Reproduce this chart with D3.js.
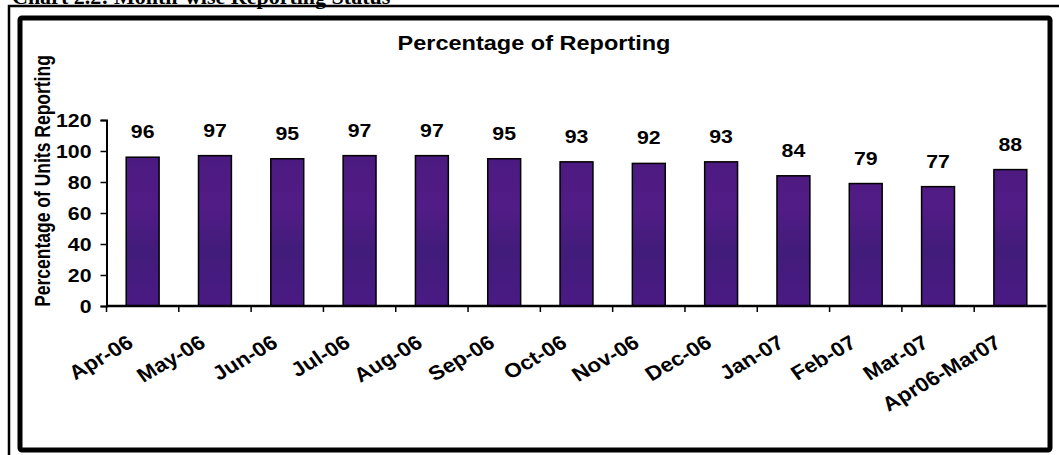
<!DOCTYPE html>
<html>
<head>
<meta charset="utf-8">
<script src="https://cdn.jsdelivr.net/npm/d3@7"></script>
<style>
  body { margin: 0; background: #fff; }
  text { font-family: "Liberation Sans", Arial, sans-serif; font-weight: bold; fill: #000; }
</style>
</head>
<body>
<svg width="1059" height="455"></svg>
<script>
//  chart data
var months = ["Apr-06", "May-06", "Jun-06", "Jul-06", "Aug-06", "Sep-06", "Oct-06",
              "Nov-06", "Dec-06", "Jan-07", "Feb-07", "Mar-07", "Apr06-Mar07"];
var reporting = [96, 97, 95, 97, 97, 95, 93, 92, 93, 84, 79, 77, 88];
var yTicks = [0, 20, 40, 60, 80, 100, 120];

var svg = d3.select("svg");
var stretch = 1.12; // the picture is a little wider than tall

//  scales
var x = d3.scaleBand()
  .domain(months)
  .range([106.5, 1046.5])
  .paddingInner(0.545)
  .paddingOuter(0.2725);

var y = d3.scaleLinear()
  .domain([0, 120])
  .range([306, 120]);

//  bar texture, a vertical purple gradient
var grad = svg.append("defs").append("linearGradient")
  .attr("id", "purple")
  .attr("gradientUnits", "userSpaceOnUse")
  .attr("x1", 0).attr("y1", y(100)).attr("x2", 0).attr("y2", y(0));
grad.append("stop").attr("offset", "0%").attr("stop-color", "#4a1a7e");
grad.append("stop").attr("offset", "35%").attr("stop-color", "#521c86");
grad.append("stop").attr("offset", "65%").attr("stop-color", "#411c7a");
grad.append("stop").attr("offset", "100%").attr("stop-color", "#4a1a84");

//  caption above the frame (cut off at the top)
svg.append("text")
  .attr("x", 12)
  .attr("y", 4)
  .style("font-family", "'Liberation Serif', 'Times New Roman', serif")
  .style("font-size", "22px")
  .text("Chart 2.2: Month-wise Reporting Status");

//  outer frame lines
svg.append("path")
  .attr("d", "M9,455 V6 H1059")
  .attr("fill", "none")
  .attr("stroke", "#000")
  .attr("stroke-width", 2.5);

//  chart area border
svg.append("rect")
  .attr("x", 20)
  .attr("y", 18)
  .attr("width", 1030)
  .attr("height", 432)
  .attr("rx", 2)
  .attr("fill", "#fff")
  .attr("stroke", "#000")
  .attr("stroke-width", 5);

//  title
svg.append("text")
  .attr("transform", "translate(534,50) scale(" + stretch + ",1)")
  .attr("text-anchor", "middle")
  .style("font-size", "21px")
  .text("Percentage of Reporting");

//  y axis title
svg.append("text")
  .attr("transform", "translate(50,181) scale(1.25,1) rotate(-90)")
  .attr("text-anchor", "middle")
  .style("font-size", "17.5px")
  .text("Percentage of Units Reporting");

//  bars
svg.append("g").selectAll("rect")
  .data(reporting)
  .enter().append("rect")
    .attr("x", function(d, i) { return x(months[i]); })
    .attr("y", function(d) { return y(d); })
    .attr("width", x.bandwidth())
    .attr("height", function(d) { return y(0) - y(d); })
    .attr("fill", "url(#purple)")
    .attr("stroke", "#000")
    .attr("stroke-width", 1.5);

//  value labels
svg.append("g").selectAll("text")
  .data(reporting)
  .enter().append("text")
    .attr("transform", function(d, i) {
      var cx = x(months[i]) + x.bandwidth() / 2;
      return "translate(" + cx + "," + (y(d) - 19) + ") scale(" + stretch + ",1)";
    })
    .attr("text-anchor", "middle")
    .style("font-size", "19px")
    .text(function(d) { return d; });

//  y axis
var yAxis = svg.append("g")
  .attr("transform", "translate(106.5,0)")
  .call(d3.axisLeft(y).tickValues(yTicks).tickSize(6).tickPadding(9));
yAxis.select(".domain").attr("stroke-width", 2);
yAxis.selectAll(".tick line").attr("stroke-width", 1.5);
yAxis.selectAll("text")
  .attr("fill", "#000")
  .attr("x", null)
  .attr("transform", "translate(-15,0) scale(" + stretch + ",1)")
  .style("font-family", "'Liberation Sans', Arial, sans-serif")
  .style("font-size", "19px");

//  x axis line and ticks at band boundaries
var step = x.step();
var xr = x.range();
svg.append("line")
  .attr("x1", xr[0]).attr("x2", xr[1])
  .attr("y1", y(0)).attr("y2", y(0))
  .attr("stroke", "#000")
  .attr("stroke-width", 2.5);
svg.append("g").selectAll("line")
  .data(d3.range(months.length))
  .enter().append("line")
    .attr("x1", function(i) { return xr[0] + i * step; })
    .attr("x2", function(i) { return xr[0] + i * step; })
    .attr("y1", y(0))
    .attr("y2", y(0) + 6)
    .attr("stroke", "#000")
    .attr("stroke-width", 1.5);

//  rotated x labels
svg.append("g").selectAll("text")
  .data(months)
  .enter().append("text")
    .attr("transform", function(d) {
      var cx = x(d) + x.bandwidth() / 2 - 8;
      return "translate(" + cx + ",346) scale(" + stretch + ",1) rotate(-33)";
    })
    .attr("text-anchor", "end")
    .style("font-size", "20px")
    .text(function(d) { return d; });
</script>
</body>
</html>
